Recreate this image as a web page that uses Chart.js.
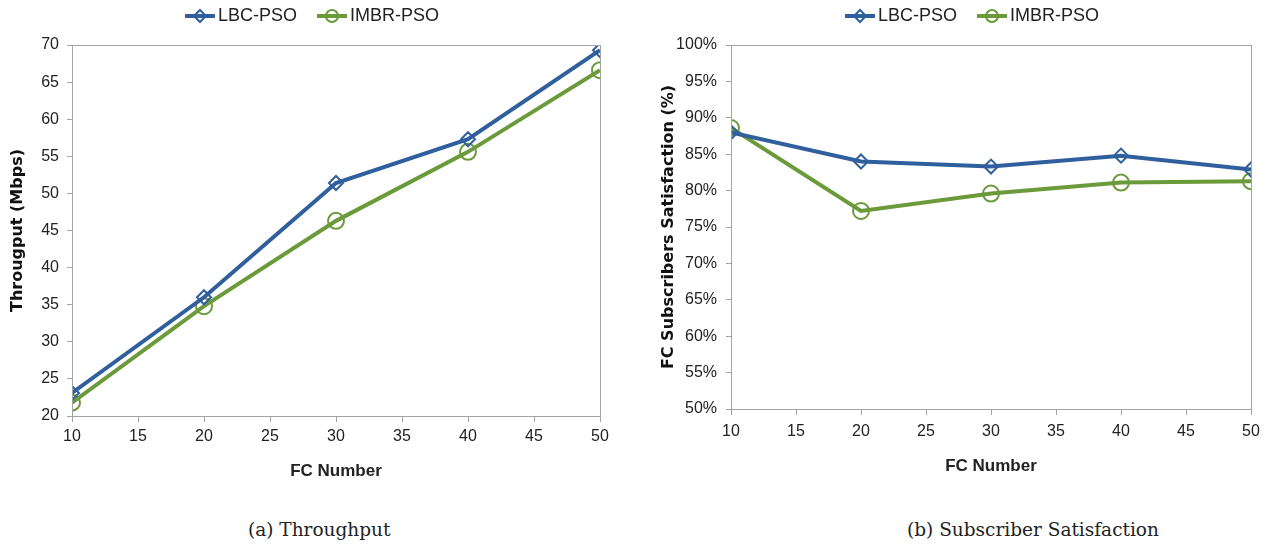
<!DOCTYPE html>
<html>
<head>
<meta charset="utf-8">
<script src="https://cdn.jsdelivr.net/npm/chart.js@4"></script>
<style>
  html, body { margin: 0; padding: 0; background: #fff; }
  #wrap { position: relative; width: 1269px; height: 545px; overflow: hidden; }
  .box { position: absolute; top: 0; }
  .cap { position: absolute; top: 519px; font-family: "DejaVu Serif", "Liberation Serif", serif; font-size: 18.5px; color: #222; white-space: nowrap; }
</style>
</head>
<body>
<div id="wrap">
  <div class="box" style="left:0;width:640px;height:500px"><canvas id="c1" width="640" height="500"></canvas></div>
  <div class="box" style="left:640px;width:629px;height:500px"><canvas id="c2" width="629" height="500"></canvas></div>
  <div class="cap" style="left:248px">(a) Throughput</div>
  <div class="cap" style="left:907px">(b) Subscriber Satisfaction</div>
</div>
<script>
// ---- data ----
const fcNumbers = [10, 20, 30, 40, 50];
const seriesNames = ["LBC-PSO", "IMBR-PSO"];
const lbcThroughput = [23.1, 36.0, 51.4, 57.3, 69.3];
const imbrThroughput = [21.8, 34.8, 46.3, 55.6, 66.6];
const lbcSatisfaction = [88.0, 84.0, 83.3, 84.8, 82.9];
const imbrSatisfaction = [88.6, 77.2, 79.6, 81.1, 81.3];

const BLUE = "#2f5f9c", GREEN = "#6b9a3a", AXIS = "#a3a3a3";
const NARROW = '"Liberation Sans Narrow", "Arial Narrow", "Liberation Sans", sans-serif';
const BOLD = '"DejaVu Sans", "Liberation Sans", sans-serif';

function pts(ys) { return fcNumbers.map((x, i) => ({ x: x, y: ys[i] })); }

function ds(label, data, color, style) {
  return {
    label: label, data: pts(data), borderColor: color, backgroundColor: "rgba(0,0,0,0)",
    borderWidth: 4, tension: 0, pointStyle: style,
    pointRadius: style === "circle" ? 8 : 7, pointBorderWidth: 2, pointBorderColor: color,
    pointBackgroundColor: "rgba(0,0,0,0)"
  };
}

// frame around plot area + Excel-like legend (line with marker)
const frameLegend = {
  id: "frameLegend",
  afterDraw(chart, args, o) {
    const ctx = chart.ctx, a = chart.chartArea;
    ctx.save();
    ctx.strokeStyle = AXIS; ctx.lineWidth = 1;
    ctx.strokeRect(Math.round(a.left) + 0.5, Math.round(a.top) + 0.5, Math.round(a.right - a.left), Math.round(a.bottom - a.top));
    ctx.font = "18px " + NARROW;
    ctx.textBaseline = "middle";
    const iconW = 30, gap = 3, itemGap = 20;
    const items = chart.data.datasets.map(d => ({ d: d, w: iconW + gap + ctx.measureText(d.label).width }));
    const total = items.reduce((s, it) => s + it.w, 0) + itemGap * (items.length - 1);
    let x = o.centerX - total / 2;
    items.forEach(it => {
      const d = it.d;
      ctx.strokeStyle = d.borderColor; ctx.lineWidth = 4;
      ctx.beginPath(); ctx.moveTo(x, o.y); ctx.lineTo(x + iconW, o.y); ctx.stroke();
      ctx.lineWidth = 2;
      ctx.fillStyle = "rgba(0,0,0,0)";
      Chart.helpers.drawPoint(ctx, { pointStyle: d.pointStyle, radius: 6, borderWidth: 2 }, x + iconW / 2, o.y);
      ctx.fillStyle = "#222";
      ctx.fillText(d.label, x + iconW + gap, o.y);
      x += it.w + itemGap;
    });
    ctx.restore();
  }
};

function makeChart(id, cfg) {
  return new Chart(document.getElementById(id), {
    type: "line",
    data: { datasets: [
      ds(seriesNames[0], cfg.lbc, BLUE, "rectRot"),
      ds(seriesNames[1], cfg.imbr, GREEN, "circle")
    ] },
    options: {
      responsive: false, animation: false,
      layout: { padding: { left: 0, top: 45, right: cfg.padRight, bottom: 0 } },
      plugins: {
        legend: { display: false }, tooltip: { enabled: false },
        frameLegend: { centerX: cfg.legendX, y: 16 }
      },
      scales: {
        x: {
          type: "linear", min: 10, max: 50,
          afterFit: s => { s.height = cfg.xHeight; },
          border: { color: AXIS },
          grid: { drawOnChartArea: false, tickLength: 6, color: AXIS },
          ticks: { stepSize: 5, padding: cfg.xTickPad, color: "#222", font: { family: NARROW, size: 16 } },
          title: { display: true, text: "FC Number", color: "#222", padding: { top: 0, bottom: cfg.xTitlePad },
            font: { family: NARROW, size: 17, weight: "bold" } }
        },
        y: {
          min: cfg.yMin, max: cfg.yMax,
          afterFit: s => { s.width = cfg.yWidth; },
          border: { color: AXIS },
          grid: { drawOnChartArea: false, tickLength: 5, color: AXIS },
          ticks: { stepSize: 5, padding: cfg.yTickPad, color: "#222", font: { family: NARROW, size: 16 }, callback: cfg.fmt },
          title: { display: true, text: cfg.yTitle, color: "#111", padding: { top: cfg.yTitlePad, bottom: 0 },
            font: { family: BOLD, size: cfg.yTitleSize, weight: "bold" } }
        }
      }
    },
    plugins: [frameLegend]
  });
}

makeChart("c1", {
  lbc: lbcThroughput, imbr: imbrThroughput, yMin: 20, yMax: 70,
  yTitle: "Througput (Mbps)", yTitleSize: 16, yTitlePad: 8, yWidth: 72, yTickPad: 8,
  xHeight: 84, xTickPad: 5, xTitlePad: 18, padRight: 40, legendX: 312,
  fmt: v => v
});
makeChart("c2", {
  lbc: lbcSatisfaction, imbr: imbrSatisfaction, yMin: 50, yMax: 100,
  yTitle: "FC Subscribers Satisfaction (%)", yTitleSize: 16, yTitlePad: 19, yWidth: 91, yTickPad: 9,
  xHeight: 91, xTickPad: 7, xTitlePad: 23, padRight: 18, legendX: 332,
  fmt: v => v + "%"
});
</script>
</body>
</html>
